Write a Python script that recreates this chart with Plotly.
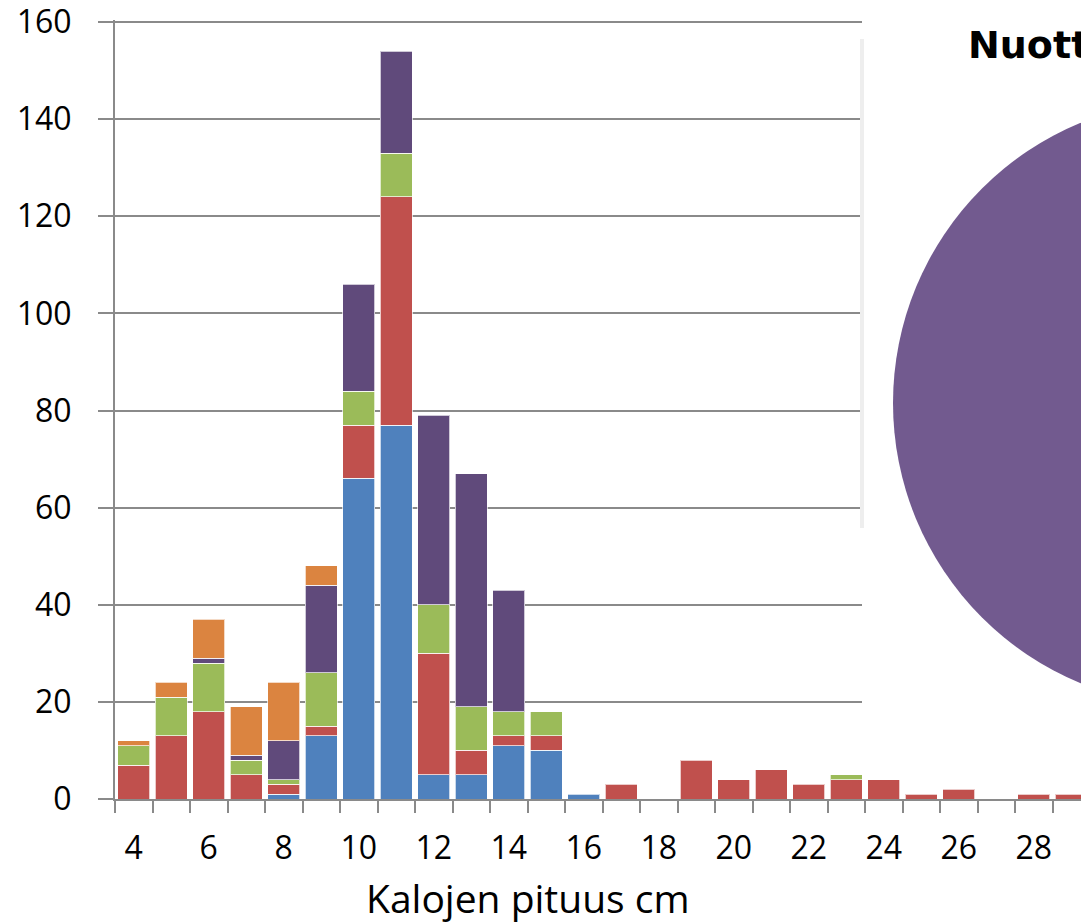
import plotly.graph_objects as go

# ---- data ----
lengths = list(range(4, 30))  # Kalojen pituus cm
blue   = [0, 0, 0, 0, 1, 13, 66, 77, 5, 5, 11, 10, 1, 0, 0, 0, 0, 0, 0, 0, 0, 0, 0, 0, 0, 0]
red    = [7, 13, 18, 5, 2, 2, 11, 47, 25, 5, 2, 3, 0, 3, 0, 8, 4, 6, 3, 4, 4, 1, 2, 0, 1, 1]
green  = [4, 8, 10, 3, 1, 11, 7, 9, 10, 9, 5, 5, 0, 0, 0, 0, 0, 0, 0, 1, 0, 0, 0, 0, 0, 0]
purple = [0, 0, 1, 1, 8, 18, 22, 21, 39, 48, 25, 0, 0, 0, 0, 0, 0, 0, 0, 0, 0, 0, 0, 0, 0, 0]
orange = [1, 3, 8, 10, 12, 4, 0, 0, 0, 0, 0, 0, 0, 0, 0, 0, 0, 0, 0, 0, 0, 0, 0, 0, 0, 0]
series_names = ["Sarja1", "Sarja2", "Sarja3", "Sarja4", "Sarja5"]
series_colors = ["#4F81BD", "#C0504D", "#9BBB59", "#604A7B", "#DB8440"]
y_ticks = [0, 20, 40, 60, 80, 100, 120, 140, 160]
x_ticks = list(range(4, 30, 2))

pie_labels = ["Nuotta"]
pie_values = [100]
pie_colors = ["#725A8F"]
pie_title = "Nuotta"
x_title = "Kalojen pituus cm"

# ---- layout geometry (pixels) ----
W, H = 1520, 924
ML, MR, MT, MB = 115, 0, 20, 125
PW = W - ML - MR
PH = H - MT - MB
px_per_x = 37.5
px_per_y = (799 - 22) / 160.0
x_lo = 3.5
x_hi = x_lo + PW / px_per_x
y_hi = PH / px_per_y

def px_x(px):
    return (px - ML) / PW

def px_y(py):
    return (H - MB - py) / PH

def ax_x(px):
    return x_lo + (px - ML) / px_per_x

def ax_y(py):
    return (H - MB - py) / px_per_y

FONT = "Open Sans"
GRID = "#8A8A8A"

fig = go.Figure()
for name, vals, col in zip(series_names,
                           [blue, red, green, purple, orange],
                           series_colors):
    fig.add_trace(go.Bar(
        x=lengths, y=[v if v else None for v in vals], name=name,
        marker=dict(color=col, line=dict(color="rgba(255,255,255,0.7)", width=1)),
        showlegend=False,
    ))

fig.add_trace(go.Pie(
    labels=pie_labels, values=pie_values, sort=False,
    marker=dict(colors=pie_colors, line=dict(width=0)),
    textinfo="none", showlegend=False,
    domain=dict(x=[px_x(893), px_x(1499)], y=[px_y(706), px_y(100)]),
))

fig.update_layout(
    width=W, height=H,
    margin=dict(l=ML, r=MR, t=MT, b=MB, pad=0),
    barmode="stack", bargap=0.157,
    plot_bgcolor="white", paper_bgcolor="white",
    font=dict(family=FONT, color="black"),
    xaxis=dict(
        range=[x_lo, x_hi], tickmode="array", tickvals=x_ticks,
        ticks="", showgrid=False, zeroline=False,
        showline=True, linecolor=GRID, linewidth=2,
        tickfont=dict(size=32, family=FONT),
        ticklabelstandoff=20,
        minor=dict(ticks="outside", ticklen=12, tickwidth=2, tickcolor=GRID,
                   tick0=3.5, dtick=1, showgrid=False),
    ),
    yaxis=dict(
        range=[0, y_hi], tickmode="array", tickvals=y_ticks,
        showgrid=True, gridcolor=GRID, gridwidth=2, zeroline=False,
        showline=True, linecolor=GRID, linewidth=2,
        ticks="outside", ticklen=15, tickwidth=2, tickcolor=GRID,
        tickfont=dict(size=32, family=FONT),
        ticklabelstandoff=20, ticklabeloverflow="allow",
    ),
    shapes=[
        dict(type="rect", xref="x", yref="y", layer="between",
             x0=ax_x(862), x1=x_hi + 1, y0=ax_y(750), y1=y_hi + 10,
             fillcolor="white", line=dict(width=0)),
        dict(type="line", xref="x", yref="y", layer="between",
             x0=ax_x(862), x1=ax_x(862), y0=ax_y(528), y1=ax_y(39),
             line=dict(color="#EEEEEE", width=4)),
    ],
    annotations=[
        dict(text="<b>" + pie_title + "</b>", xref="paper", yref="paper",
             x=px_x(966), y=px_y(45), xanchor="left", yanchor="middle",
             showarrow=False, font=dict(size=38, family="DejaVu Sans", color="black")),
        dict(text=x_title, xref="paper", yref="paper",
             x=px_x(528), y=px_y(897), xanchor="center", yanchor="middle",
             showarrow=False, font=dict(size=39, family=FONT, color="black")),
    ],
)

fig.write_html(
    "out.html",
    post_script="document.documentElement.style.overflow='hidden';"
                "document.body.style.overflow='hidden';"
                "document.body.style.margin='0';",
)
